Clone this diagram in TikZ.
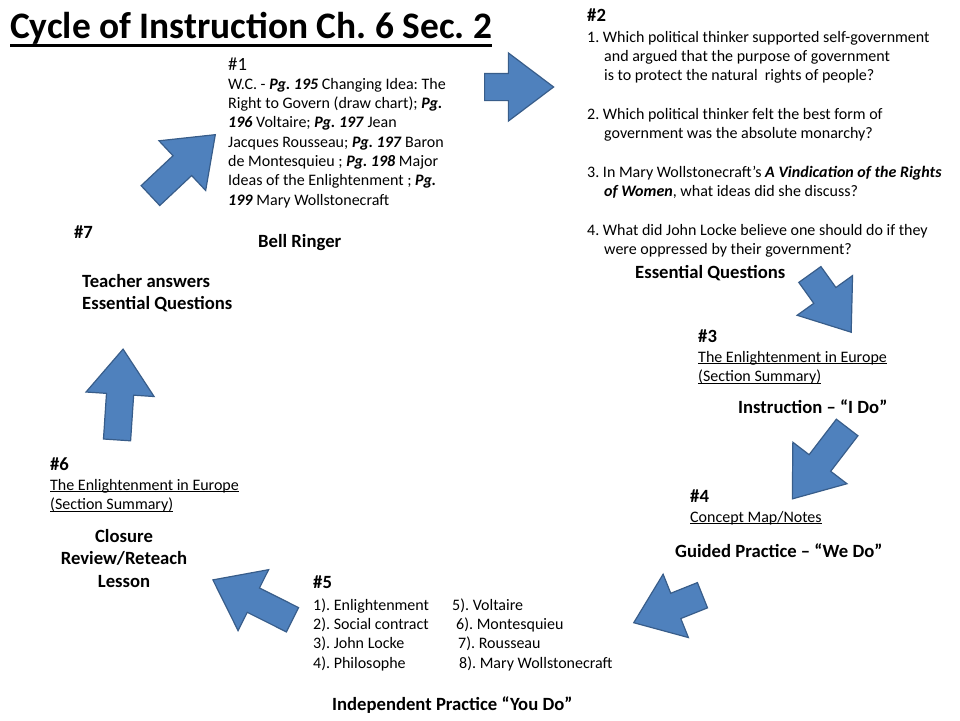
\documentclass[tikz,border=0pt]{standalone}
\usepackage{fontspec}
\setmainfont{Carlito}
\usetikzlibrary{shapes.arrows}
\definecolor{arrowfill}{HTML}{4F81BD}
\definecolor{arrowline}{HTML}{385D8A}
\newcommand{\bi}[1]{\textbf{\textit{#1}}}
\newcommand{\undl}[1]{\underline{\smash{#1}}}
\frenchspacing
\tikzset{
    body/.style = {inner sep=0pt, anchor=north west, align=left,
        font=\fontsize{16}{19.3}\selectfont},
    stage/.style = {inner sep=0pt, anchor=north west, align=left,
        font=\bfseries\fontsize{18.67}{22.7}\selectfont},
    stepnum/.style = {inner sep=0pt, anchor=base west,
        font=\bfseries\fontsize{18.67}{22.7}\selectfont},
    bigarrow/.style = {single arrow, draw=arrowline, fill=arrowfill,
        line width=1.2pt, inner xsep=0pt, inner ysep=13pt,
        single arrow head extend=20.5pt, single arrow tip angle=74,
        anchor=tail, minimum height=#1}
}

\begin{document}
\begin{tikzpicture}[x=1pt, y=-1pt]
\useasboundingbox (0,0) rectangle (960,720);

% title
\node [inner sep=0pt, anchor=base west, font=\bfseries\fontsize{37.4}{44}\selectfont] (title) at (10,38) {Cycle of Instruction Ch. 6 Sec. 2};
\draw [line width=3pt] ([yshift=-7pt]title.base west) -- ([yshift=-7pt]title.base east);

% #1 bell ringer
\node [stepnum, font=\fontsize{18.67}{22.7}\selectfont] (n1) at (228,70) {\#1};
\node [body] (bell) at (228,75.5) {\strut W.C. - \bi{Pg. 195} Changing Idea: The\\ Right to Govern (draw chart); \bi{Pg.}\\ \bi{196} Voltaire; \bi{Pg. 197} Jean\\ Jacques Rousseau; \bi{Pg. 197} Baron\\ de Montesquieu ; \bi{Pg. 198} Major\\ Ideas of the Enlightenment ; \bi{Pg.}\\ \bi{199} Mary Wollstonecraft};
\node [stepnum] (bellname) at (258,247) {Bell Ringer};

% #2 essential questions
\node [stepnum] (n2) at (587,21) {\#2};
\node [body] (eq) at (587,28.5) {\strut 1. Which political thinker supported self-government\\ \hspace*{17pt}and argued that the purpose of government\\ \hspace*{17pt}is to protect the natural\ \ rights of people?\\[19.3pt] 2. Which political thinker felt the best form of\\ \hspace*{17pt}government was the absolute monarchy?\\[19.3pt] 3. In Mary Wollstonecraft’s \bi{A Vindication of the Rights}\\ \hspace*{17pt}\bi{of Women}, what ideas did she discuss?\\[19.3pt] 4. What did John Locke believe one should do if they\\ \hspace*{17pt}were oppressed by their government?};
\node [stepnum] (eqname) at (635,278) {Essential Questions};

% #3 instruction
\node [stepnum] (n3) at (698,342) {\#3};
\node [body] (instr) at (698,348.5) {\strut\undl{The Enlightenment in Europe}\\ \undl{(Section Summary)}};
\node [stepnum] (instrname) at (738,413) {Instruction – “I Do”};

% #4 guided practice
\node [stepnum] (n4) at (690,502) {\#4};
\node [body, anchor=base west] (guided) at (690,522) {\undl{Concept Map/Notes}};
\node [stepnum] (guidedname) at (675,557) {Guided Practice – “We Do”};

% #5 independent practice
\node [stepnum] (n5) at (313,588) {\#5};
\node [body] (vocab) at (313,596.5) {\strut 1). Enlightenment\\ 2). Social contract\\ 3). John Locke\\ 4). Philosophe};
\node [body] (vocabb) at (452,596.5) {\strut 5). Voltaire\\ \hspace*{4pt}6). Montesquieu\\ \hspace*{6pt}7). Rousseau\\ \hspace*{7pt}8). Mary Wollstonecraft};
\node [stepnum] (indepname) at (332,710) {Independent Practice “You Do”};

% #6 closure
\node [stepnum] (n6) at (50,470) {\#6};
\node [body] (closure) at (50,476.5) {\strut\undl{The Enlightenment in Europe}\\ \undl{(Section Summary)}};
\node [stage, align=center, anchor=north] (closurename) at (124,526.1) {\strut Closure\\ Review/Reteach\\ Lesson};

% #7 teacher answers
\node [stepnum] (n7) at (74,238) {\#7};
\node [stage] (teachername) at (82,271.1) {\strut Teacher answers\\ Essential Questions};

% cycle arrows
\node [bigarrow=69] (a12) at (484,87) {};
\node [bigarrow=71, rotate=-54.4] (a23) at (809.5,274) {};
\node [bigarrow=90, rotate=-127.5] (a34) at (847.5,427) {};
\node [bigarrow=74, rotate=201.8] (a45) at (703,595) {};
\node [bigarrow=89, rotate=153.4] (a56) at (293,620) {};
\node [bigarrow=91, rotate=86.2] (a67) at (117,440.5) {};
\node [bigarrow=89, rotate=43.2] (a71) at (150,196) {};
\end{tikzpicture}
\end{document}
